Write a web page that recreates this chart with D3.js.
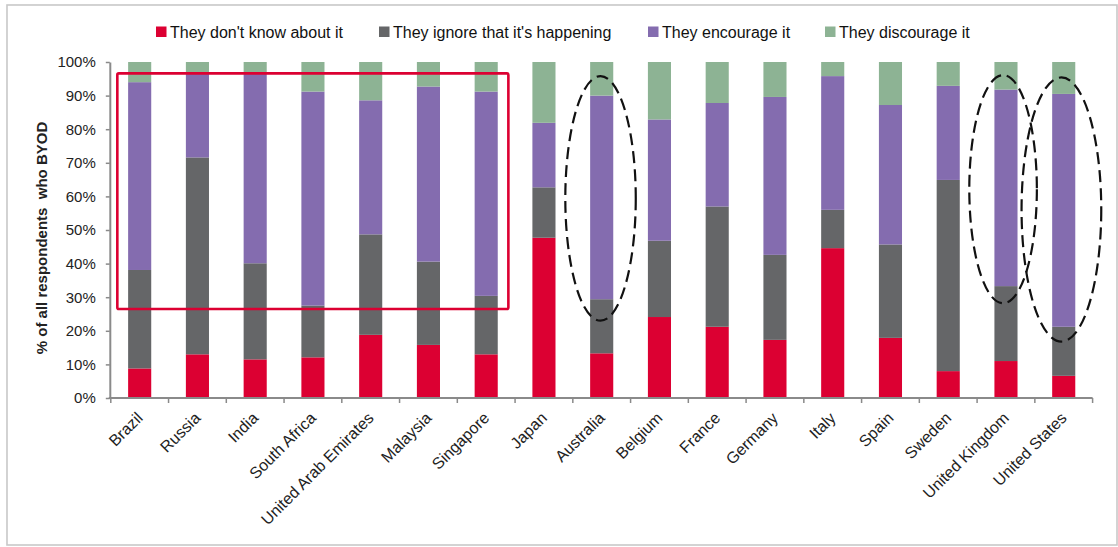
<!DOCTYPE html>
<html>
<head>
<meta charset="utf-8">
<script src="https://cdn.jsdelivr.net/npm/d3@7"></script>
<style>
  html, body { margin: 0; padding: 0; background: #ffffff; }
  svg { display: block; font-family: "Liberation Sans", Arial, sans-serif; }
</style>
</head>
<body>
<svg id="chart" width="1118" height="547"></svg>
<script>
// ---------- data ----------
const categories = ["Brazil", "Russia", "India", "South Africa", "United Arab Emirates", "Malaysia",
  "Singapore", "Japan", "Australia", "Belgium", "France", "Germany", "Italy", "Spain", "Sweden",
  "United Kingdom", "United States"];
const seriesNames = ["They don't know about it", "They ignore that it's happening", "They encourage it", "They discourage it"];
const dontKnow   = [8.8, 13.0, 11.5, 12.1, 18.8, 15.8, 13.0, 47.7, 13.3, 24.1, 21.2, 17.3, 44.6, 17.9, 8.0, 11.0, 6.6];
const ignoreIt   = [29.3, 58.6, 28.6, 15.4, 29.9, 24.8, 17.4, 15.0, 16.1, 22.7, 35.8, 25.3, 11.4, 27.8, 56.9, 22.3, 14.6];
const encourage  = [55.9, 24.9, 56.7, 63.7, 39.9, 52.1, 60.8, 19.2, 60.6, 36.1, 30.8, 47.0, 39.8, 41.5, 28.0, 58.5, 69.3];
const discourage = [6.0, 3.5, 3.2, 8.8, 11.4, 7.3, 8.8, 18.1, 10.0, 17.1, 12.2, 10.4, 4.2, 12.8, 7.1, 8.2, 9.5];
const yTickValues = [0, 10, 20, 30, 40, 50, 60, 70, 80, 90, 100];
const yTitle = "% of all respondents  who BYOD";

// annotations (value ranges on the chart)
const boxCategories = ["Brazil", "Singapore"];
const boxRange = [26.5, 96.6];
const ellipseCategories = ["Australia", "United Kingdom", "United States"];
const ellipseRanges = [[23.0, 95.8], [28.2, 96.1], [16.8, 95.4]];

// ---------- styles ----------
const colors = ["#dc0032", "#656668", "#846caf", "#8db394"];
const plot = { left: 110.8, right: 1092.6, top: 62, bottom: 398 };

const svg = d3.select("#chart");

// outer frame
svg.append("rect").attr("x", 7).attr("y", 5).attr("width", 1110).attr("height", 540)
  .attr("fill", "none").attr("stroke", "#c8c8c8").attr("stroke-width", 1.6);

const x = d3.scaleBand().domain(categories).range([plot.left, plot.right])
  .paddingInner(0.6).paddingOuter(0.3);
const y = d3.scaleLinear().domain([0, 100]).range([plot.bottom, plot.top]);

// stacked data
const rows = categories.map((c, i) => ({
  cat: c, s0: dontKnow[i], s1: ignoreIt[i], s2: encourage[i], s3: discourage[i]
}));
const stack = d3.stack().keys(["s0", "s1", "s2", "s3"]);
const layers = stack(rows);

svg.append("g").selectAll("g").data(layers).join("g")
  .attr("fill", (d, i) => colors[i])
  .selectAll("rect").data(d => d).join("rect")
  .attr("x", d => x(d.data.cat))
  .attr("width", x.bandwidth())
  .attr("y", d => y(d[1]))
  .attr("height", d => y(d[0]) - y(d[1]));

// y axis
const yAxis = d3.axisLeft(y).tickValues(yTickValues).tickFormat(d => d + "%")
  .tickSize(4).tickPadding(10).tickSizeOuter(0);
const gy = svg.append("g").attr("transform", `translate(${plot.left - 1},0)`).call(yAxis);
gy.select(".domain").attr("stroke", "#8a8a8a").attr("stroke-width", 2);
gy.selectAll(".tick line").attr("stroke", "#8a8a8a").attr("stroke-width", 1.5);
gy.selectAll(".tick text").attr("font-size", 15).attr("fill", "#222")
  .attr("font-family", "'Liberation Sans', Arial, sans-serif");

// x axis
const step = x.step();
const boundaries = categories.map(c => x(c) + x.bandwidth() / 2 - step / 2);
boundaries.push(x(categories[categories.length - 1]) + x.bandwidth() / 2 + step / 2);
const gx = svg.append("g");
gx.append("line").attr("x1", plot.left - 2).attr("x2", boundaries[boundaries.length - 1])
  .attr("y1", plot.bottom).attr("y2", plot.bottom)
  .attr("stroke", "#8a8a8a").attr("stroke-width", 2);
gx.selectAll("line.tk").data(boundaries).join("line").attr("class", "tk")
  .attr("x1", d => d).attr("x2", d => d)
  .attr("y1", plot.bottom).attr("y2", plot.bottom + 5)
  .attr("stroke", "#8a8a8a").attr("stroke-width", 1.5);
gx.selectAll("text").data(categories).join("text")
  .attr("transform", d => `translate(${x(d) + x.bandwidth() / 2 + 4},${plot.bottom + 21}) rotate(-45)`)
  .attr("text-anchor", "end")
  .attr("font-size", 16).attr("fill", "#222")
  .text(d => d);

// y title
svg.append("text")
  .attr("transform", `translate(47,${(plot.top + plot.bottom) / 2 + 8}) rotate(-90)`)
  .attr("text-anchor", "middle").attr("font-size", 15).attr("font-weight", "bold")
  .attr("fill", "#222").style("white-space", "pre")
  .text(yTitle);

// legend
const legendX = [156, 379, 648, 825];
const lg = svg.append("g");
seriesNames.forEach((name, i) => {
  lg.append("rect").attr("x", legendX[i]).attr("y", 26.5).attr("width", 10.5).attr("height", 10.5)
    .attr("fill", colors[i]);
  lg.append("text").attr("x", legendX[i] + 14).attr("y", 37.5)
    .attr("font-size", 16).attr("fill", "#111").text(name);
});

// red box annotation
const bx0 = x(boxCategories[0]) - 0.187 * step;
const bx1 = x(boxCategories[1]) + 0.584 * step;
svg.append("rect").attr("x", bx0).attr("y", y(boxRange[1]))
  .attr("width", bx1 - bx0).attr("height", y(boxRange[0]) - y(boxRange[1]))
  .attr("rx", 1.5).attr("fill", "none").attr("stroke", "#dc0032").attr("stroke-width", 2.6);

// dashed ellipses
const ellipseDx = [-0.02, -0.05, -0.04];
const ellipseRx = [0.61, 0.585, 0.69];
ellipseCategories.forEach((c, i) => {
  const cx = x(c) + x.bandwidth() / 2 + ellipseDx[i] * step;
  const yt = y(ellipseRanges[i][1]), yb = y(ellipseRanges[i][0]);
  svg.append("ellipse").attr("cx", cx).attr("cy", (yt + yb) / 2)
    .attr("rx", ellipseRx[i] * step).attr("ry", (yb - yt) / 2)
    .attr("fill", "none").attr("stroke", "#111").attr("stroke-width", 2.2)
    .attr("stroke-dasharray", "12,6");
});
</script>
</body>
</html>
